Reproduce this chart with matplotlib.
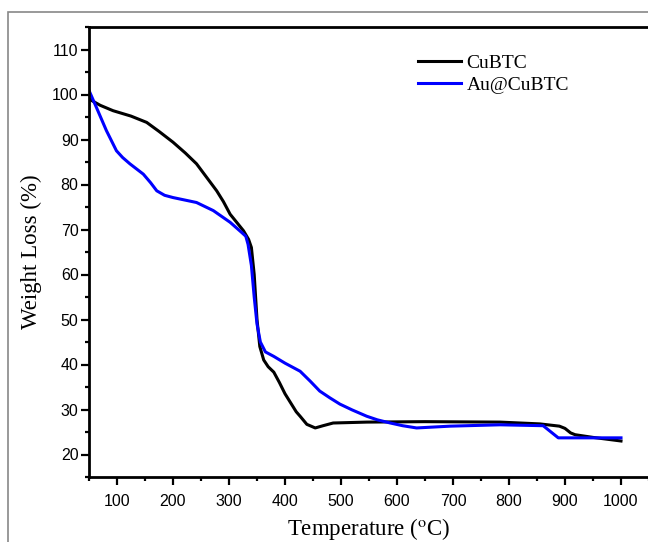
import matplotlib
matplotlib.use("Agg")
import matplotlib.pyplot as plt
from matplotlib.ticker import MultipleLocator
from matplotlib.patches import Rectangle

plt.rcParams['mathtext.fontset'] = 'stix'

# CuBTC TGA curve
cubtc_t = [50, 70, 93, 125, 153, 175, 200, 222, 242, 260, 278, 290, 302, 315, 326,
           335, 340, 345, 350, 355, 362, 370, 380, 390, 400, 410, 420, 427, 439,
           454, 468, 486, 546, 650, 784, 855, 890, 900, 910, 918, 950, 1000]
cubtc_w = [99.0, 97.6, 96.4, 95.2, 93.8, 91.8, 89.4, 87.0, 84.6, 81.6, 78.6, 76.2,
           73.4, 71.4, 69.7, 67.8, 66.0, 60.0, 50.0, 44.0, 41.0, 39.5, 38.3, 36.0,
           33.5, 31.5, 29.5, 28.5, 26.7, 25.9, 26.4, 27.0, 27.2, 27.3, 27.2, 26.8,
           26.3, 25.8, 24.8, 24.4, 23.8, 23.0]

# Au@CuBTC TGA curve
au_t = [50, 63, 81, 99, 110, 123, 147, 160, 171, 185, 200, 242, 272, 302, 323, 330,
        334, 340, 345, 350, 356, 365, 380, 400, 415, 427, 445, 462, 480, 498, 520,
        546, 565, 588, 610, 635, 695, 784, 861, 875, 888, 1000]
au_w = [100.9, 97.2, 92.0, 87.5, 86.0, 84.6, 82.3, 80.4, 78.6, 77.6, 77.1, 76.0,
        74.2, 71.6, 69.3, 68.5, 66.7, 62.0, 55.0, 49.0, 45.0, 42.8, 41.8, 40.3,
        39.3, 38.5, 36.3, 34.1, 32.6, 31.2, 29.9, 28.5, 27.7, 27.0, 26.4, 25.9,
        26.3, 26.6, 26.4, 25.0, 23.7, 23.7]

W, H = 648, 542
fig = plt.figure(figsize=(W / 100, H / 100), dpi=100)

# outer gray frame of the original figure
fig.patches.append(Rectangle((8 / W, -0.1), 1.2, 1.1 - 12 / H, transform=fig.transFigure,
                             fill=False, edgecolor='#888888', linewidth=1.2))

ax = fig.add_axes([89 / W, 1 - 477 / H, 560 / W, 450 / H])

ax.plot(cubtc_t, cubtc_w, color='black', linewidth=2.2, label='CuBTC',
        solid_joinstyle='round')
ax.plot(au_t, au_w, color='#0000ff', linewidth=2.2, label='Au@CuBTC',
        solid_joinstyle='round')

ax.set_xlim(50, 1050)
ax.set_ylim(15, 115)
ax.xaxis.set_major_locator(MultipleLocator(100))
ax.xaxis.set_minor_locator(MultipleLocator(50))
ax.yaxis.set_major_locator(MultipleLocator(10))
ax.yaxis.set_minor_locator(MultipleLocator(5))

for s in ax.spines.values():
    s.set_linewidth(2.0)
ax.tick_params(which='major', direction='out', length=6, width=1.6)
ax.tick_params(which='minor', direction='out', length=3, width=1.6)
ax.tick_params(axis='y', which='both', pad=1.5)
ax.tick_params(axis='x', which='both', pad=6)
for lab in ax.get_xticklabels() + ax.get_yticklabels():
    lab.set_family('Liberation Sans')
    lab.set_fontsize(11.5)

ax.set_xlabel('Temperature ($^{\\rm o}$C)', family='Liberation Serif', fontsize=16.5, labelpad=5)
ax.set_ylabel('Weight Loss (%)', family='Liberation Serif', fontsize=16.5, labelpad=7)

ax.legend(loc='upper left', bbox_to_anchor=(418 / W, 1 - 54 / H), bbox_transform=fig.transFigure,
          frameon=False, prop={'family': 'Liberation Serif', 'size': 14},
          handlelength=2.2, handletextpad=0.3, labelspacing=0.25, borderpad=0, borderaxespad=0)

fig.savefig('out.png', dpi=100)
